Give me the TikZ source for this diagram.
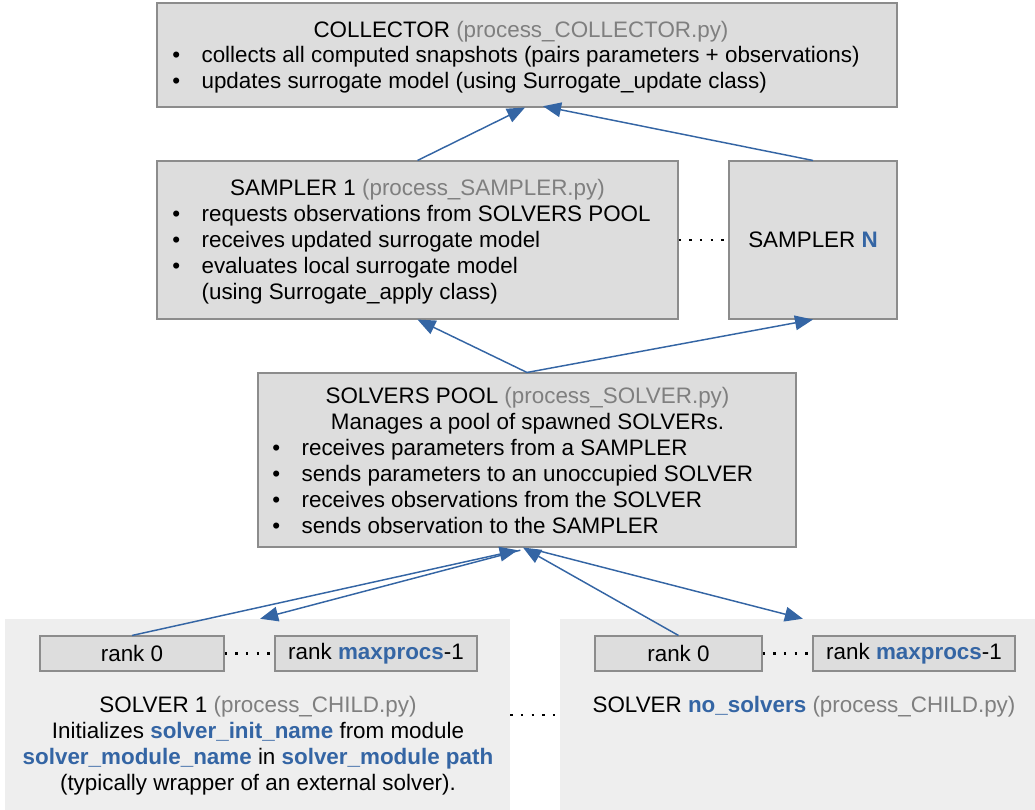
\documentclass[tikz,border=0pt]{standalone}
\usepackage{fontspec}
\setmainfont{Liberation Sans}
\usetikzlibrary{fit,arrows.meta}

\definecolor{boxfill}{HTML}{DDDDDD}
\definecolor{boxline}{HTML}{8C8C8C}
\definecolor{groupfill}{HTML}{EEEEEE}
\definecolor{kwblue}{HTML}{3465A4}
\definecolor{filegray}{HTML}{7F7F7F}

\newcommand{\kw}[1]{\textcolor{kwblue}{\textbf{#1}}}
\newcommand{\pyfile}[1]{\textcolor{filegray}{#1}}
\newcommand{\bul}{\makebox[22pt][l]{\textbullet}}
\newcommand{\nobul}{\makebox[22pt][l]{}}

\tikzset{
  box/.style={draw=boxline,fill=boxfill,line width=0.8pt,inner sep=0pt},
  group/.style={fill=groupfill,inner sep=0pt},
  txt/.style={font=\fontsize{16.8}{19.5}\selectfont,inner sep=0pt,align=left},
  link/.style={draw=kwblue,line width=1.1pt,-{Triangle[length=13.5pt,width=11pt]}},
  dots/.style={line width=1.8pt,dash pattern=on 1.8pt off 6.2pt},
}

\begin{document}
\begin{tikzpicture}[x=0.75pt,y=-0.75pt]
  \useasboundingbox (0,0) rectangle (1035,810);
  % --- boxes
  \node[box,fit={(157,3) (897,107)}] (coll) {};
  \node[box,fit={(157,161) (678,319)}] (samp1) {};
  \node[box,fit={(729,161) (897,319)}] (sampN) {};
  \node[box,fit={(258,373) (796,547)}] (pool) {};
  \node[group,fit={(5,619) (510,810)}] (solv1) {};
  \node[group,fit={(560,619) (1035,810)}] (solvN) {};
  \node[box,fit={(40,636) (224,671)}] (rankA) {};
  \node[box,fit={(275,636) (477,671)}] (rankB) {};
  \node[box,fit={(595,636) (762,671)}] (rankC) {};
  \node[box,fit={(813,636) (1015,671)}] (rankD) {};

  % --- collector (base = last line)
  \node[txt,anchor=base] (collT) at (521,37) {COLLECTOR \pyfile{(process\_COLLECTOR.py)}};
  \node[txt,anchor=base west] (collL) at (172,88)
    {\bul collects all computed snapshots (pairs parameters + observations)\\
     \bul updates surrogate model (using Surrogate\_update class)};

  % --- samplers
  \node[txt,anchor=base] (samp1T) at (417.5,195) {SAMPLER 1 \pyfile{(process\_SAMPLER.py)}};
  \node[txt,anchor=base west] (samp1L) at (172,299)
    {\bul requests observations from SOLVERS POOL\\
     \bul receives updated surrogate model\\
     \bul evaluates local surrogate model\\
     \nobul (using Surrogate\_apply class)};
  \node[txt] (sampNT) at (813,240) {SAMPLER \kw{N}};

  % --- solvers pool
  \node[txt,anchor=base] (poolT) at (527.5,403) {SOLVERS POOL \pyfile{(process\_SOLVER.py)}};
  \node[txt,anchor=base] (poolS) at (527.5,429) {Manages a pool of spawned SOLVERs.};
  \node[txt,anchor=base west] (poolL) at (272,533)
    {\bul receives parameters from a SAMPLER\\
     \bul sends parameters to an unoccupied SOLVER\\
     \bul receives observations from the SOLVER\\
     \bul sends observation to the SAMPLER};

  % --- solvers
  \node[txt] at (rankA) {rank 0};
  \node[txt] at (rankB) {rank \kw{maxprocs}-1};
  \node[txt] at (rankC) {rank 0};
  \node[txt] at (rankD) {rank \kw{maxprocs}-1};
  \node[txt,anchor=base,align=center] (solv1T) at (258,790)
    {SOLVER 1 \pyfile{(process\_CHILD.py)}\\
     Initializes \kw{solver\_init\_name} from module\\
     \kw{solver\_module\_name} in \kw{solver\_module path}\\
     (typically wrapper of an external solver).};
  \node[txt,anchor=base] (solvNT) at (804,712)
    {SOLVER \kw{no\_solvers} \pyfile{(process\_CHILD.py)}};

  % --- dotted ellipses
  \draw[dots] (samp1.east |- sampNT) -- (sampN.west |- sampNT);
  \draw[dots] (rankA) -- (rankB);
  \draw[dots] (rankC) -- (rankD);
  \draw[dots] (solv1.east |- 0,715) -- (solvN.west |- 0,715);

  % --- connectors
  \draw[link] (samp1.north) -- ([xshift=-1.5pt]coll.south);
  \draw[link] (sampN.north) -- ([xshift=12pt,yshift=1pt]coll.south);
  \draw[link] (pool.north) -- (samp1.south);
  \draw[link] (pool.north) -- (sampN.south);
  \draw[link] (rankA.north) -- ([xshift=-7pt,yshift=-2pt]pool.south);
  \draw[link] ([xshift=-5pt,yshift=-2pt]pool.south) -- ([xshift=2pt]solv1.north);
  \draw[link] (rankC.north) -- ([xshift=-3pt]pool.south);
  \draw[link] ([xshift=7pt,yshift=-2pt]pool.south) -- ([xshift=4pt]solvN.north);
\end{tikzpicture}
\end{document}
